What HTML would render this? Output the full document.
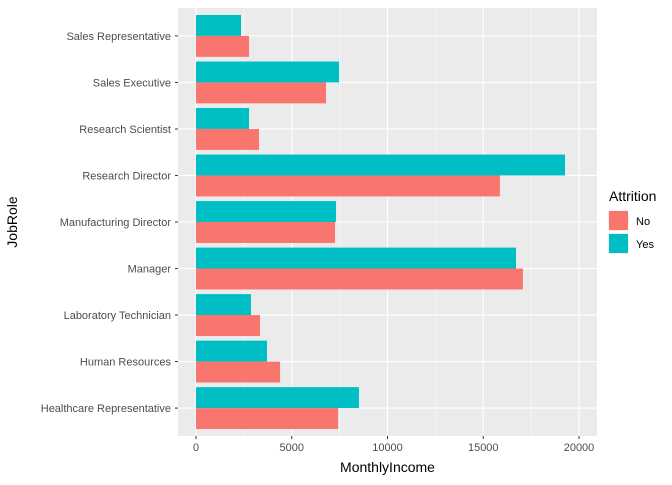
<!DOCTYPE html>
<html><head><meta charset="utf-8"><style>
body{margin:0;background:#fff;}
svg{font-family:"Liberation Sans",Arial,sans-serif;}
</style></head><body>
<svg id="chart" width="672" height="480" xmlns="http://www.w3.org/2000/svg"></svg>
<script>
const categories=["Healthcare Representative","Human Resources","Laboratory Technician","Manager","Manufacturing Director","Research Director","Research Scientist","Sales Executive","Sales Representative"];
const noValues=[7420,4390,3340,17070,7260,15870,3290,6790,2770];
const yesValues=[8510,3710,2870,16710,7310,19270,2770,7470,2350];
const xTicks=[0,5000,10000,15000,20000];
const xMinor=[2500,7500,12500,17500];
const svg=document.getElementById('chart');
const NS="http://www.w3.org/2000/svg";
const PL=178,PR=597,PT=8,PB=436;
const x0=196,scale=(579-196)/20000;
function X(v){return x0+v*scale;}
const step=(PB-PT)/(categories.length+0.2);
function Y(i){return PB-0.6*step-i*step;}
function mk(t,a,p){const e=document.createElementNS(NS,t);for(const k in a)e.setAttribute(k,a[k]);(p||svg).appendChild(e);return e;}
const bg=mk('rect',{x:PL,y:PT,width:PR-PL,height:PB-PT,fill:'#EBEBEB'});


xMinor.forEach(v=>{const l=mk('line',{x1:X(v),x2:X(v),y1:PT,y2:PB,stroke:'#fff','stroke-width':0.5});

});
xTicks.forEach(v=>{const l=mk('line',{x1:X(v),x2:X(v),y1:PT,y2:PB,stroke:'#fff','stroke-width':1.1});

});
categories.forEach((c,i)=>{const l=mk('line',{x1:PL,x2:PR,y1:Y(i),y2:Y(i),stroke:'#fff','stroke-width':1.1});

});
const bw=step*0.9/2;
categories.forEach((c,i)=>{
 const y=Y(i);
 const b1=mk('rect',{x:X(0),y:y-bw,width:X(yesValues[i])-X(0),height:bw,fill:'#00BFC4'});
 
 
 const b2=mk('rect',{x:X(0),y:y,width:X(noValues[i])-X(0),height:bw,fill:'#F8766D'});
 
 
 const t=mk('text',{x:PL-7,y:y+4,'text-anchor':'end','font-size':11,fill:'#4D4D4D'});t.textContent=c;
 
 
 const tk=mk('line',{x1:PL-3,x2:PL,y1:y,y2:y,stroke:'#333','stroke-width':1});
 
 
});
xTicks.forEach(v=>{
 const tk=mk('line',{x1:X(v),x2:X(v),y1:PB,y2:PB+3,stroke:'#333','stroke-width':1});
 
 
 const t=mk('text',{x:X(v),y:PB+15,'text-anchor':'middle','font-size':11,fill:'#4D4D4D'});t.textContent=v;
 
 
});
const xt=mk('text',{x:(PL+PR)/2,y:472,'text-anchor':'middle','font-size':14,fill:'#000'});xt.textContent='MonthlyIncome';


const yt=mk('text',{x:17,y:(PT+PB)/2,'text-anchor':'middle','font-size':14,fill:'#000',transform:`rotate(-90 17 ${(PT+PB)/2})`});yt.textContent='JobRole';


const lt=mk('text',{x:609,y:201,'font-size':14,fill:'#000'});lt.textContent='Attrition';


[['No','#F8766D',210],['Yes','#00BFC4',233]].forEach(([n,c,y])=>{
 const g=mk('g',{});
 
 
 mk('rect',{x:608,y:y,width:21,height:21,fill:'#F2F2F2'},g);
 mk('rect',{x:609,y:y+1,width:19,height:19,fill:c},g);
 const t=mk('text',{x:636,y:y+15,'font-size':11,fill:'#000'},g);t.textContent=n;
});
</script>
</body></html>
